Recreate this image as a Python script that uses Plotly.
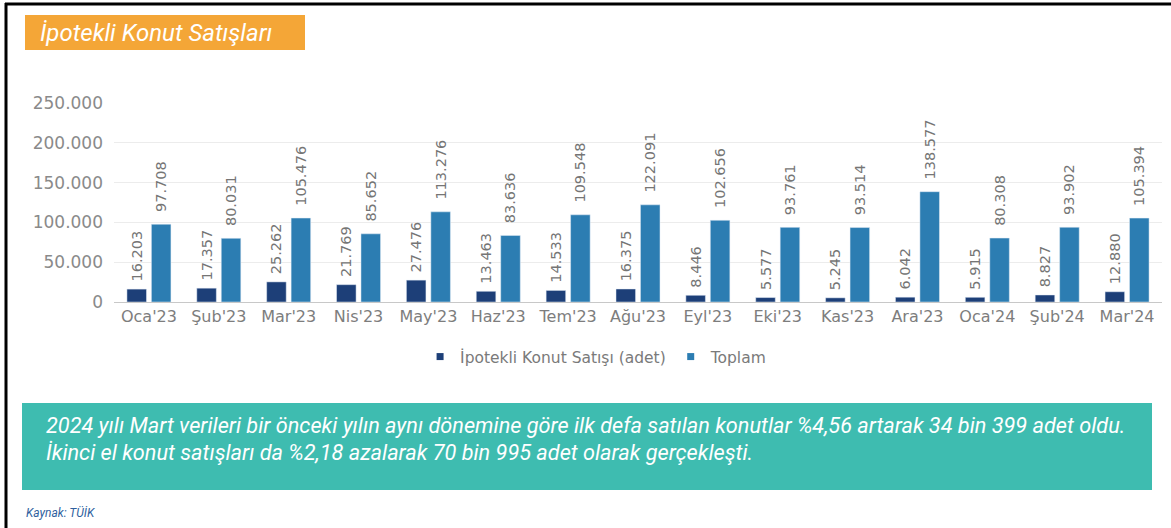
import plotly.graph_objects as go

months = ["Oca'23", "Şub'23", "Mar'23", "Nis'23", "May'23", "Haz'23", "Tem'23", "Ağu'23",
          "Eyl'23", "Eki'23", "Kas'23", "Ara'23", "Oca'24", "Şub'24", "Mar'24"]
ipotekli = [16203, 17357, 25262, 21769, 27476, 13463, 14533, 16375,
            8446, 5577, 5245, 6042, 5915, 8827, 12880]
toplam = [97708, 80031, 105476, 85652, 113276, 83636, 109548, 122091,
          102656, 93761, 93514, 138577, 80308, 93902, 105394]
y_ticks = [0, 50000, 100000, 150000, 200000, 250000]

C_DARK = "#1d3f78"
C_LIGHT = "#2c7db2"

W, H = 1171, 528
L, R, T, B = 114, 1162, 103, 302


def px(x):
    return (x - L) / (R - L)


def py(y):
    return (B - y) / (B - T)


LABEL_FONT = dict(size=14.5, color="#757575", family="DejaVu Sans")
PAD = "\u00a0"

fig = go.Figure()
fig.add_trace(go.Bar(x=months, y=ipotekli, name="İpotekli Konut Satışı (adet)",
                     marker_color=C_DARK, showlegend=False,
                     texttemplate=PAD + "%{y:,}", textposition="outside", constraintext="none",
                     textangle=-90, cliponaxis=False, textfont=LABEL_FONT))
fig.add_trace(go.Bar(x=months, y=toplam, name="Toplam",
                     marker_color=C_LIGHT, showlegend=False,
                     texttemplate=PAD * 2 + "%{y:,}", textposition="outside", constraintext="none",
                     textangle=-90, cliponaxis=False, textfont=LABEL_FONT))
# legend proxies with small square markers
fig.add_trace(go.Scatter(x=[None], y=[None], mode="markers", name="İpotekli Konut Satışı (adet)",
                         marker=dict(symbol="square", size=7, color=C_DARK)))
fig.add_trace(go.Scatter(x=[None], y=[None], mode="markers", name="Toplam",
                         marker=dict(symbol="square", size=7, color=C_LIGHT)))

shapes = [
    # outer frame lines
    dict(type="line", xref="paper", yref="paper", x0=px(6), x1=px(6), y0=py(3), y1=py(528),
         line=dict(color="black", width=3)),
    dict(type="line", xref="paper", yref="paper", x0=px(5), x1=px(1171), y0=py(4), y1=py(4),
         line=dict(color="black", width=3)),
    # title box
    dict(type="rect", xref="paper", yref="paper", x0=px(25), x1=px(305), y0=py(50), y1=py(15),
         fillcolor="#f4a637", line=dict(width=0), layer="below"),
    # teal note box
    dict(type="rect", xref="paper", yref="paper", x0=px(22), x1=px(1152), y0=py(490), y1=py(403),
         fillcolor="#3ebcb0", line=dict(width=0), layer="below"),
]

annotations = [
    dict(text="<i>İpotekli Konut Satışları</i>", xref="paper", yref="paper",
         x=px(38), y=py(33), xanchor="left", yanchor="middle", showarrow=False,
         font=dict(size=24, color="white", family="Roboto")),
    dict(text="<i>2024 yılı Mart verileri bir önceki yılın aynı dönemine göre ilk defa satılan konutlar %4,56 artarak 34 bin 399 adet oldu.</i>",
         xref="paper", yref="paper", x=px(44), y=py(425), xanchor="left", yanchor="middle",
         showarrow=False, font=dict(size=21.7, color="white", family="Roboto")),
    dict(text="<i>İkinci el konut satışları da %2,18 azalarak 70 bin 995 adet olarak gerçekleşti.</i>",
         xref="paper", yref="paper", x=px(44), y=py(453), xanchor="left", yanchor="middle",
         showarrow=False, font=dict(size=21.7, color="white", family="Roboto")),
    dict(text="<i>Kaynak: TÜİK</i>", xref="paper", yref="paper", x=px(24), y=py(512),
         xanchor="left", yanchor="middle", showarrow=False,
         font=dict(size=12, color="#2f5f9e", family="Roboto")),
]

fig.update_layout(
    width=W, height=H,
    margin=dict(l=L, r=W - R, t=T, b=H - B, autoexpand=False),
    paper_bgcolor="white", plot_bgcolor="white",
    separators=",.",
    barmode="group", bargap=0.3, bargroupgap=0.2,
    font=dict(family="DejaVu Sans", color="#7a7a7a"),
    xaxis=dict(tickfont=dict(size=16, color="#7d7d7d"), showline=True, linecolor="#c8c8c8",
               linewidth=1, ticks="", showgrid=False),
    yaxis=dict(range=[0, 250000], tickvals=y_ticks, tickformat=",",
               tickfont=dict(size=17, color="#8a8a8a"), showgrid=True, gridcolor="#ececec",
               zeroline=False, ticks="", ticklabelstandoff=10),
    legend=dict(orientation="h", x=0.46, xanchor="center", y=py(357), yanchor="middle",
                font=dict(size=15.5, color="#7a7a7a"), itemwidth=30, traceorder="normal",
                bgcolor="rgba(0,0,0,0)"),
    shapes=shapes, annotations=annotations,
)

fig.write_html("out.html", config={"displayModeBar": False},
               post_script="document.documentElement.style.overflow='hidden';"
                           "document.body.style.overflow='hidden';"
                           "document.body.style.margin='0';document.body.style.padding='0';")
